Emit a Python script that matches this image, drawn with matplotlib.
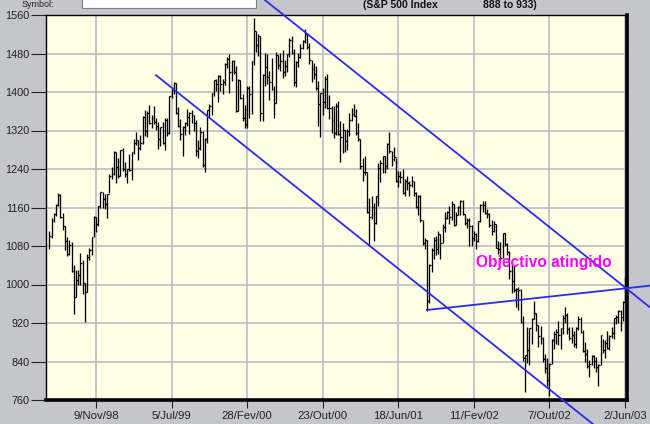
import matplotlib
matplotlib.use('Agg')
import matplotlib.pyplot as plt
import matplotlib.dates as mdates
import matplotlib.patches as mpatches
import pandas as pd

# S&P 500 weekly bars (week starting on Monday), from 15/Jun/98 to 2/Jun/03
first_week = '1998-06-15'

highs_1998 = [1112, 1138, 1148, 1167, 1190, 1188, 1149, 1121, 1098, 1092, 1089, 1040, 1030, 1030, 1066,
              1050, 1003, 1063, 1075, 1099, 1142, 1141, 1164, 1193, 1193, 1188, 1189, 1229, 1244]
lows_1998 = [1074, 1097, 1130, 1143, 1163, 1138, 1113, 1072, 1060, 1062, 1026, 939, 973, 1000, 1000,
             980, 923, 984, 1050, 1062, 1098, 1110, 1122, 1160, 1160, 1157, 1138, 1190, 1220]
closes_1998 = [1100.7, 1133.2, 1146.4, 1164.3, 1186.8, 1140.8, 1120.7, 1089.5, 1062.8, 1081.2, 1027.1,
               973.9, 1009.1, 1020.1, 1044.8, 1002.6, 984.4, 1056.4, 1070.7, 1098.7, 1141.0, 1125.7,
               1163.6, 1192.3, 1176.7, 1166.5, 1188.0, 1226.3, 1229.2]

highs_1999 = [1278, 1276, 1262, 1280, 1283, 1254, 1240, 1272, 1276, 1303, 1316, 1300, 1310, 1350, 1362,
              1360, 1372, 1352, 1370, 1345, 1337, 1328, 1338, 1345, 1345, 1392, 1407, 1420, 1419, 1369,
              1344, 1330, 1337, 1365, 1358, 1362, 1352, 1341, 1300, 1327, 1318, 1304, 1363, 1375, 1397,
              1425, 1428, 1436, 1436, 1427, 1460, 1473]
lows_1999 = [1228, 1211, 1221, 1225, 1235, 1223, 1210, 1235, 1217, 1272, 1290, 1258, 1280, 1292, 1308,
             1306, 1333, 1325, 1333, 1322, 1281, 1287, 1291, 1279, 1309, 1312, 1387, 1396, 1354, 1328,
             1300, 1268, 1310, 1330, 1313, 1336, 1319, 1268, 1263, 1280, 1244, 1233, 1294, 1347, 1352,
             1392, 1403, 1380, 1403, 1396, 1414, 1450]
closes_1999 = [1275.1, 1243.3, 1225.2, 1279.6, 1239.4, 1230.1, 1239.2, 1238.3, 1275.5, 1294.6, 1299.3,
               1282.8, 1293.7, 1348.4, 1319.0, 1356.9, 1335.2, 1345.0, 1337.8, 1330.3, 1301.8, 1327.8,
               1293.6, 1342.8, 1315.3, 1391.2, 1403.3, 1418.8, 1356.2, 1328.7, 1313.7, 1327.7, 1336.6,
               1348.3, 1357.2, 1351.7, 1335.4, 1277.4, 1282.8, 1317.6, 1247.4, 1301.7, 1362.9, 1370.2,
               1397.0, 1424.0, 1416.6, 1433.3, 1417.0, 1421.0, 1458.3, 1469.3]

highs_2000 = [1478, 1466, 1467, 1455, 1428, 1425, 1395, 1372, 1412, 1413, 1465, 1553, 1527, 1521, 1516,
              1437, 1482, 1478, 1444, 1470, 1413, 1483, 1477, 1481, 1487, 1467, 1479, 1512, 1517, 1490,
              1464, 1482, 1499, 1508, 1530, 1520, 1502, 1467, 1461, 1454, 1422, 1398, 1408, 1434, 1438,
              1394, 1370, 1370, 1377, 1381, 1340, 1335]
lows_2000 = [1397, 1422, 1438, 1358, 1360, 1385, 1340, 1325, 1325, 1346, 1355, 1457, 1484, 1475, 1339,
             1340, 1412, 1416, 1383, 1405, 1346, 1378, 1448, 1443, 1430, 1433, 1442, 1472, 1478, 1413,
             1410, 1452, 1470, 1490, 1502, 1490, 1459, 1420, 1426, 1405, 1329, 1306, 1353, 1366, 1365,
             1343, 1315, 1305, 1310, 1310, 1254, 1274]
closes_2000 = [1441.5, 1465.2, 1441.4, 1360.2, 1424.4, 1387.1, 1346.1, 1333.4, 1409.2, 1395.1, 1464.5,
               1527.5, 1498.6, 1516.4, 1356.6, 1434.5, 1452.4, 1432.2, 1420.9, 1406.9, 1378.0, 1477.3,
               1456.9, 1464.5, 1441.5, 1454.6, 1478.9, 1509.0, 1480.2, 1419.9, 1462.9, 1471.8, 1491.7,
               1506.5, 1520.8, 1494.5, 1465.8, 1448.7, 1436.5, 1409.0, 1374.2, 1396.9, 1379.6, 1426.7,
               1366.0, 1367.7, 1341.8, 1315.2, 1369.9, 1312.2, 1305.9, 1320.3]

highs_2001 = [1321, 1324, 1356, 1367, 1376, 1364, 1336, 1303, 1263, 1268, 1233, 1180, 1183, 1169, 1184,
              1253, 1259, 1268, 1267, 1294, 1316, 1278, 1286, 1262, 1236, 1235, 1240, 1219, 1226, 1215,
              1226, 1215, 1193, 1186, 1185, 1135, 1097, 1092, 1042, 1075, 1098, 1100, 1111, 1104, 1125,
              1150, 1152, 1163, 1173, 1168, 1150, 1164, 1176]
lows_2001 = [1275, 1280, 1309, 1339, 1350, 1311, 1298, 1241, 1215, 1228, 1148, 1081, 1136, 1091, 1126,
             1163, 1214, 1232, 1232, 1240, 1274, 1246, 1256, 1212, 1203, 1210, 1188, 1183, 1196, 1183,
             1202, 1183, 1160, 1145, 1130, 1083, 1073, 945, 962, 1026, 1052, 1062, 1064, 1054, 1087,
             1110, 1136, 1125, 1135, 1122, 1123, 1144, 1145]
closes_2001 = [1298.4, 1318.3, 1342.5, 1355.0, 1349.5, 1314.8, 1301.5, 1245.9, 1234.2, 1233.4, 1150.5,
               1139.8, 1160.3, 1128.4, 1183.5, 1243.0, 1253.1, 1266.6, 1245.7, 1292.0, 1277.9, 1260.7,
               1265.0, 1214.4, 1225.4, 1224.4, 1190.6, 1215.7, 1210.9, 1205.8, 1214.4, 1190.2, 1162.0,
               1184.9, 1133.6, 1085.8, 1092.5, 965.8, 1040.9, 1071.4, 1091.7, 1073.5, 1104.6, 1087.2,
               1120.3, 1138.7, 1150.3, 1139.5, 1167.1, 1123.1, 1144.9, 1161.0, 1172.5]

highs_2002 = [1176, 1146, 1139, 1138, 1123, 1112, 1108, 1132, 1167, 1173, 1173, 1156, 1148, 1133, 1131,
              1125, 1091, 1088, 1107, 1106, 1086, 1070, 1041, 1040, 992, 994, 990, 934, 853, 912,
              909, 931, 965, 941, 916, 914, 891, 856, 847, 836, 886, 903, 907, 925, 910,
              937, 954, 940, 912, 911, 903, 911]
lows_2002 = [1144, 1124, 1118, 1081, 1081, 1090, 1074, 1089, 1130, 1151, 1146, 1139, 1119, 1103, 1109,
             1075, 1063, 1048, 1055, 1079, 1062, 1012, 982, 985, 953, 946, 920, 842, 776, 837,
             833, 876, 928, 904, 870, 876, 840, 817, 789, 768, 835, 866, 876, 875, 867,
             897, 919, 897, 885, 878, 870, 869]
closes_2002 = [1145.6, 1127.6, 1133.3, 1122.2, 1096.2, 1104.2, 1089.8, 1131.8, 1164.3, 1166.2, 1148.7,
               1147.4, 1122.7, 1111.0, 1125.2, 1076.3, 1073.4, 1055.0, 1106.6, 1083.8, 1067.1, 1027.5,
               1007.3, 989.1, 989.8, 989.0, 921.4, 847.8, 852.8, 864.2, 908.6, 928.8, 940.9, 916.1,
               893.9, 889.8, 846.0, 827.4, 800.6, 835.3, 884.4, 897.7, 901.0, 894.7, 909.8, 930.6,
               936.3, 906.6, 889.5, 895.8, 875.4, 908.6]

highs_2003 = [935, 932, 906, 880, 865, 843, 853, 853, 849, 834, 896, 886, 885, 904, 896, 912, 931, 936,
              947, 947, 965, 1015]
lows_2003 = [905, 900, 859, 838, 827, 807, 832, 826, 818, 789, 833, 858, 847, 865, 864, 888, 886, 918,
             919, 903, 925, 963]
closes_2003 = [927.6, 901.8, 861.4, 855.7, 829.7, 834.9, 851.2, 841.2, 828.9, 833.3, 895.8, 863.5, 878.9,
               868.3, 893.6, 898.8, 930.1, 933.4, 944.3, 933.2, 963.6, 987.8]

highs = highs_1998 + highs_1999 + highs_2000 + highs_2001 + highs_2002 + highs_2003
lows = lows_1998 + lows_1999 + lows_2000 + lows_2001 + lows_2002 + lows_2003
closes = closes_1998 + closes_1999 + closes_2000 + closes_2001 + closes_2002 + closes_2003

# axis ticks
y_ticks = [760, 840, 920, 1000, 1080, 1160, 1240, 1320, 1400, 1480, 1560]
x_tick_dates = ['1998-11-09', '1999-07-05', '2000-02-28', '2000-10-23', '2001-06-18',
                '2002-02-11', '2002-10-07', '2003-06-02']
x_tick_labels = ['9/Nov/98', '5/Jul/99', '28/Fev/00', '23/Out/00', '18/Jun/01',
                 '11/Fev/02', '7/Out/02', '2/Jun/03']

# hand drawn trend lines (date, price)
upper_line = (['2000-04-24', '2003-08-19'], [1591, 953])
lower_line = (['1999-05-17', '2003-02-21'], [1435, 710])
target_line = (['2001-09-16', '2003-08-19'], [947, 997.5])

dates = pd.date_range(first_week, periods=len(closes), freq='W-MON')
x = mdates.date2num(dates.to_pydatetime())

plt.rcParams['font.family'] = ['Liberation Sans', 'DejaVu Sans']

fig = plt.figure(figsize=(6.5, 4.24), dpi=100)
fig.patch.set_facecolor('#C5C5CD')
ax = fig.add_axes([46 / 650, 1 - 400 / 424, 581 / 650, 385 / 424])
ax.set_facecolor('#FFFFE6')

# bars: high-low line plus close tick on the right
ax.vlines(x, lows, highs, color='black', lw=0.95, zorder=3)
ax.hlines(closes, x, x + 6, color='black', lw=0.95, zorder=3)

blue = '#2A2AF2'
for dts, prices in (upper_line, lower_line, target_line):
    xs = mdates.date2num(pd.to_datetime(dts).to_pydatetime())
    ax.plot(xs, prices, color=blue, lw=1.3, clip_on=False, zorder=4)

ax.text(mdates.date2num(pd.Timestamp('2002-02-19').to_pydatetime()), 1046, 'Objectivo atingido',
        color='#FF00FF', fontsize=11.2, fontweight='bold', ha='left', va='center', zorder=5)

ax.set_ylim(760, 1560)
ax.set_xlim(mdates.date2num(pd.Timestamp('1998-06-04 14:00').to_pydatetime()),
            mdates.date2num(pd.Timestamp('2003-06-08 10:00').to_pydatetime()))
ax.set_yticks(y_ticks)
ax.set_yticklabels([str(v) for v in y_ticks])
ax.set_xticks(mdates.date2num(pd.to_datetime(x_tick_dates).to_pydatetime()))
ax.set_xticklabels(x_tick_labels)

ax.grid(True, color='#BBBBC8', lw=1.2)
ax.set_axisbelow(True)

ax.tick_params(axis='y', direction='out', length=11, width=0.8, pad=1, labelsize=7.8,
               colors='#222222')
ax.tick_params(axis='x', direction='out', length=6, width=0.8, pad=2, labelsize=8.2,
               colors='#222222')

for side in ('left', 'top'):
    ax.spines[side].set_linewidth(1.0)
    ax.spines[side].set_color('black')
for side in ('right', 'bottom'):
    ax.spines[side].set_linewidth(2.6)
    ax.spines[side].set_color('black')

# header strip of the original screen
fig.text(22 / 650, 1.0, 'Symbol:', fontsize=6.5, color='#222222', va='top')
fig.patches.append(mpatches.Rectangle((82 / 650, 1 - 8 / 424), 174 / 650, 12 / 424,
                                      transform=fig.transFigure, facecolor='white',
                                      edgecolor='#808080', lw=0.8))
fig.text(363 / 650, 0.999, '(S&P 500 Index', fontsize=7.5, fontweight='bold',
         color='#111111', va='top')
fig.text(483 / 650, 0.999, '888 to 933)', fontsize=7.5, fontweight='bold',
         color='#111111', va='top')

fig.savefig('out.png', dpi=100, facecolor=fig.get_facecolor())
